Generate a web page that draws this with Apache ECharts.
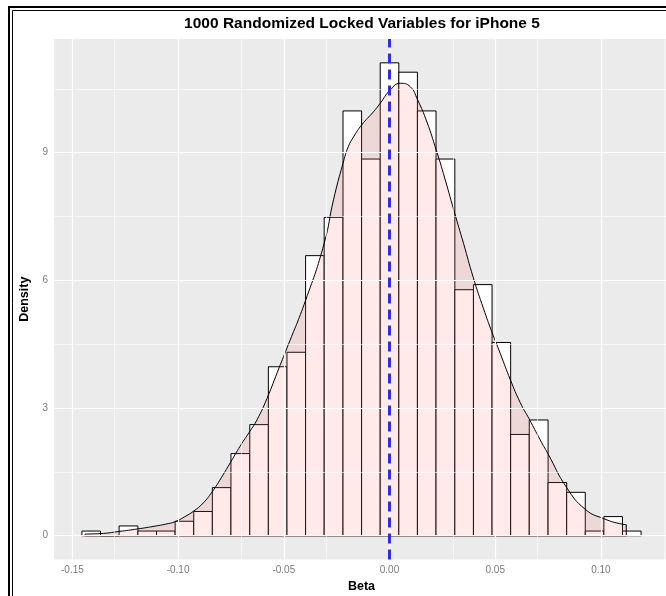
<!DOCTYPE html>
<html><head><meta charset="utf-8">
<script src="https://cdn.jsdelivr.net/npm/echarts@6/dist/echarts.min.js"></script>
<style>html,body{margin:0;padding:0;background:#fff}#c{width:666px;height:596px}</style>
</head><body><div id="c"></div>
<script>
// ---- data ----
const binEdges = [-0.1455,-0.1367,-0.1279,-0.1190,-0.1102,-0.1014,-0.0926,-0.0838,-0.0750,-0.0661,
  -0.0573,-0.0485,-0.0397,-0.0309,-0.0220,-0.0132,-0.0044,0.0044,0.0132,0.0220,
  0.0309,0.0397,0.0485,0.0573,0.0661,0.0750,0.0838,0.0926,0.1014,0.1102,0.1190];
const binDensity = [0.11,0,0.23,0.11,0.11,0.34,0.57,1.13,1.93,2.61,
  3.97,4.31,6.58,7.48,9.98,8.85,11.11,10.89,9.98,8.85,
  5.78,5.90,4.54,2.38,2.72,1.25,1.02,0.11,0.45,0.11];
const densityX = [-0.1440,-0.1368,-0.1279,-0.1191,-0.1104,-0.1061,-0.1014,-0.0971,-0.0926,-0.0881,
  -0.0839,-0.0796,-0.0749,-0.0706,-0.0661,-0.0627,-0.0580,-0.0522,-0.0485,-0.0397,
  -0.0309,-0.0265,-0.0220,-0.0195,-0.0170,-0.0132,-0.0076,-0.0044,0.0003,0.0051,0.0098,
  0.0132,0.0177,0.0221,0.0255,0.0307,0.0350,0.0396,0.0445,0.0484,0.0524,
  0.0572,0.0618,0.0661,0.0713,0.0749,0.0837,0.0926,0.1014,0.1102,0.1120];
const densityY = [0.04,0.05,0.10,0.16,0.23,0.27,0.33,0.44,0.58,0.77,
  1.03,1.36,1.75,2.11,2.45,2.72,3.22,3.95,4.41,5.53,
  6.87,7.89,8.75,9.14,9.37,9.65,9.96,10.16,10.47,10.63,10.55,
  10.25,9.72,9.06,8.51,7.60,6.87,6.07,5.33,4.79,4.28,
  3.66,3.13,2.74,2.25,1.93,1.14,0.62,0.40,0.27,0.26];
const meanBeta = 0.0015;
const xTicks = [-0.15,-0.10,-0.05,0.00,0.05,0.10];
const yTicks = [0,3,6,9];
const xRange = [-0.1587, 0.1322];
const yRange = [-0.556, 11.67];

// ---- build series ----
const barData = binDensity.map((d,i)=>[binEdges[i], binEdges[i+1], d]);
const densData = densityX.map((x,i)=>[x, densityY[i]]);
const n = densityX.length;
const outline = [[densityX[n-1],densityY[n-1]],[densityX[n-1],0],[densityX[0],0],[densityX[0],densityY[0]]];

function minorOf(ticks, range){
  const step = ticks[1]-ticks[0];
  const out = [];
  for (let i = -1; i < ticks.length; i++){
    const v = ticks[0] + (i+0.5)*step;
    if (v > range[0] && v < range[1]) out.push(+v.toFixed(6));
  }
  return out;
}
const MAJOR = {color:'#ffffff', width:1.2, type:'solid'};
const MINOR = {color:'#ffffff', width:0.6, type:'solid'};
const gridLines = [].concat(
  xTicks.map(v=>({xAxis:v, lineStyle:MAJOR})),
  minorOf(xTicks, xRange).map(v=>({xAxis:v, lineStyle:MINOR})),
  yTicks.map(v=>({yAxis:v, lineStyle:MAJOR})),
  minorOf(yTicks, yRange).map(v=>({yAxis:v, lineStyle:MINOR}))
);

const FONT = '"Liberation Sans", Arial, Helvetica, sans-serif';
const chart = echarts.init(document.getElementById('c'), null, {renderer:'canvas'});
chart.setOption({
  animation:false,
  backgroundColor:'#ffffff',
  title:{text:'1000 Randomized Locked Variables for iPhone 5', left:357, textAlign:'center', top:11,
    textStyle:{fontFamily:FONT, fontSize:15.5, fontWeight:'bold', color:'#000'}},
  grid:{left:54, right:-3, top:39, bottom:36.6, show:true, backgroundColor:'#EBEBEB', borderWidth:0,
    containLabel:false, outerBoundsMode:'none'},
  xAxis:{type:'value', min:xRange[0], max:xRange[1],
    name:'Beta', nameLocation:'middle', nameGap:20.5,
    nameTextStyle:{fontFamily:FONT, fontSize:12.5, fontWeight:'bold', color:'#000'},
    axisLine:{show:false},
    axisTick:{show:true, length:3.5, lineStyle:{color:'#444', width:1}, customValues:xTicks},
    axisLabel:{customValues:xTicks, formatter:v=>v.toFixed(2), color:'#7a7a7a', fontSize:10, fontFamily:FONT, margin:6},
    splitLine:{show:false}, minorSplitLine:{show:false}
  },
  yAxis:{type:'value', min:yRange[0], max:yRange[1],
    name:'Density', nameLocation:'middle', nameGap:20,
    nameTextStyle:{fontFamily:FONT, fontSize:12.5, fontWeight:'bold', color:'#000'},
    axisLine:{show:false},
    axisTick:{show:true, length:3.5, lineStyle:{color:'#444', width:1}, customValues:yTicks},
    axisLabel:{customValues:yTicks, formatter:v=>String(v), color:'#7a7a7a', fontSize:10, fontFamily:FONT, margin:6},
    splitLine:{show:false}, minorSplitLine:{show:false}
  },
  series:[
    {type:'line', name:'grid', z:1, data:[], silent:true,
      markLine:{silent:true, symbol:['none','none'], label:{show:false}, animation:false, data:gridLines}},
    {type:'custom', name:'histogram', z:2, data:barData, encode:{x:[0,1], y:2},
      renderItem:function(params, api){
        const p0 = api.coord([api.value(0), api.value(2)]);
        const p1 = api.coord([api.value(1), 0]);
        return {type:'rect', shape:{x:p0[0], y:p0[1], width:p1[0]-p0[0], height:p1[1]-p0[1]},
          style:{fill:'#ffffff', stroke:'#000000', lineWidth:1}};
      }},
    {type:'line', name:'density', z:3, data:densData, smooth:0.5, showSymbol:false, symbol:'none',
      lineStyle:{color:'#000', width:1}, areaStyle:{color:'rgba(255,102,102,0.2)'}},
    {type:'line', name:'outline', z:4, data:outline, showSymbol:false, symbol:'none',
      lineStyle:{color:'#000', width:1},
      markLine:{silent:true, symbol:['none','none'], label:{show:false},
        lineStyle:{color:'#2e2ee6', width:3, type:[10,6]}, data:[{xAxis:meanBeta}]}}
  ],
  graphic:[
    {type:'rect', shape:{x:9, y:7, width:700, height:620}, style:{fill:'none', stroke:'#000', lineWidth:2}, silent:true, z:100},
    {type:'rect', shape:{x:12.5, y:10.5, width:700, height:620}, style:{fill:'none', stroke:'#000', lineWidth:1}, silent:true, z:100}
  ]
});
</script></body></html>
